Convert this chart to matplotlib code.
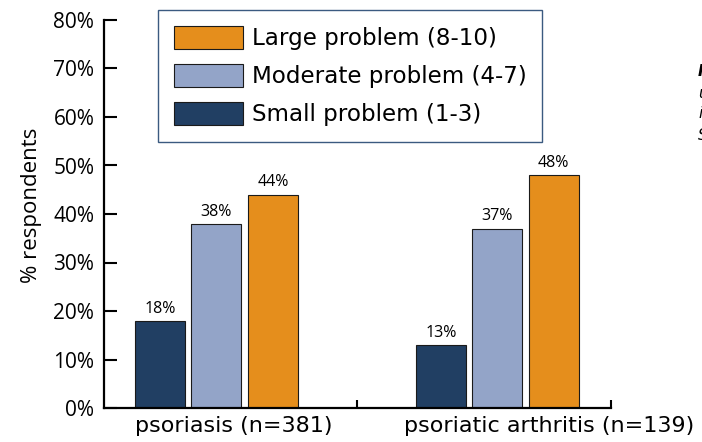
import numpy as np
import matplotlib
matplotlib.use("Agg")
import matplotlib.pyplot as plt
from matplotlib.transforms import ScaledTranslation

# data
groups = ["psoriasis (n=381)", "psoriatic arthritis (n=139)"]
series = ["Small problem (1-3)", "Moderate problem (4-7)", "Large problem (8-10)"]
small = [18, 13]
moderate = [38, 37]
large = [44, 48]
colors = ["#213F63", "#93A4C8", "#E58E1C"]

fig = plt.figure(figsize=(7.02, 4.42), dpi=100)
ax = fig.add_axes([104/702, 34/442, 507/702, 388/442])

x = np.arange(len(groups))
width = 0.178
step = 0.201
handles = []
for i, (vals, name, col) in enumerate(zip([small, moderate, large], series, colors)):
    bars = ax.bar(x + (i - 1) * step, vals, width, color=col, edgecolor="#1a1a1a",
                  linewidth=0.8, label=name)
    ax.bar_label(bars, labels=[f"{v}%" for v in vals], padding=3,
                 fontsize=11.5, family="Open Sans")
    handles.append(bars)

ax.set_xlim(-0.40, 1.405)
ax.set_ylim(0, 80)

# y axis
ax.set_yticks(range(0, 81, 10))
ax.set_yticklabels([f"{v}%" for v in range(0, 81, 10)], family="Open Sans", fontsize=15)
ax.tick_params(axis="y", direction="in", length=9.5, width=1.5, pad=7)
ax.set_ylabel("% respondents", family="Open Sans", fontsize=16)
ax.yaxis.set_label_coords(-0.122, 0.523)

# x axis: labels at groups (shifted right like the slide), marks between groups and at the end
ax.set_xticks(x)
ax.set_xticklabels(groups, family="DejaVu Sans", fontsize=16)
ax.tick_params(axis="x", which="major", length=0, pad=6)
shifts = [0.17, 0.52]
for lbl, dx in zip(ax.get_xticklabels(), shifts):
    lbl.set_transform(lbl.get_transform() + ScaledTranslation(dx, 0, fig.dpi_scale_trans))
ax.set_xticks([0.5, 1.405], minor=True)
ax.tick_params(axis="x", which="minor", direction="in", length=6, width=1.5)

for s in ["top", "right"]:
    ax.spines[s].set_visible(False)
for s in ["left", "bottom"]:
    ax.spines[s].set_linewidth(1.6)

leg = ax.legend(handles[::-1], series[::-1], loc="upper left",
                bbox_to_anchor=(158/702, 1 - 10/442), bbox_transform=fig.transFigure,
                prop={"family": "DejaVu Sans", "size": 16.6},
                handlelength=3.0, handleheight=1.15, handletextpad=0.4,
                labelspacing=0.6, borderpad=0.68, borderaxespad=0,
                fancybox=False, framealpha=1)
leg.get_frame().set_edgecolor("#3B5A80")
leg.get_frame().set_linewidth(1.0)

# side note cut off at the right edge of the slide
note = ["Im", "us", "in", "Su"]
for k, line in enumerate(note):
    fig.text(698/702, 1 - (72 + k * 21)/442, line, fontsize=11, style="italic",
             weight="bold" if k == 0 else "normal", va="center", ha="left")

fig.savefig("out.png", dpi=100)
